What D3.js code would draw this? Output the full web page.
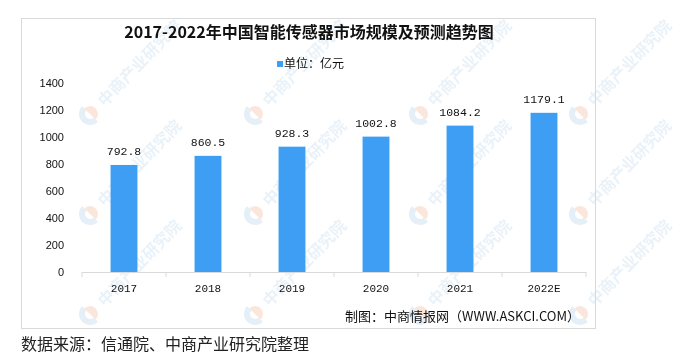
<!doctype html>
<html lang="zh">
<head>
  <meta charset="utf-8">
  <script src="https://cdn.jsdelivr.net/npm/d3@7"></script>
  <title>2017-2022年中国智能传感器市场规模及预测趋势图</title>
  <style>
    html, body { margin: 0; padding: 0; background: #fff; }
    svg { display: block; }
  </style>
</head>
<body>
  <svg id="chart" width="690" height="359"></svg>
  <script>
    // chart data
    var years = ["2017", "2018", "2019", "2020", "2021", "2022E"];
    var values = [792.8, 860.5, 928.3, 1002.8, 1084.2, 1179.1];
    var yTicks = [0, 200, 400, 600, 800, 1000, 1200, 1400];

    var cjk = '"Noto Sans CJK SC", "Noto Sans", sans-serif';
    var mono = '"Liberation Mono", "DejaVu Sans Mono", monospace';
    var blue = "#3d9ef3";

    var svg = d3.select("#chart");
    svg.append("rect").attr("width", 690).attr("height", 359).attr("fill", "#fff");

    // watermark "中商产业研究院" behind everything
    var wm = svg.append("g").attr("opacity", 0.5);
    [114, 214, 314].forEach(function(wy) {
      [90, 255, 420, 580].forEach(function(wx) {
        var g = wm.append("g").attr("transform", "translate(" + wx + "," + wy + ") rotate(-46)");
        g.append("path").attr("d", d3.arc()({innerRadius: 5, outerRadius: 11, startAngle: Math.PI, endAngle: 2 * Math.PI}))
          .attr("fill", "#c9def0");
        g.append("path").attr("d", d3.arc()({innerRadius: 0, outerRadius: 8, startAngle: 0, endAngle: Math.PI}))
          .attr("fill", "#f6cdb9");
        g.append("text").attr("x", 15).attr("y", 6)
          .attr("font-family", cjk).attr("font-size", 16).attr("font-weight", "bold")
          .attr("fill", "#d4e5f3").text("中商产业研究院");
      });
    });

    // frame
    svg.append("rect").attr("x", 21.5).attr("y", 18.5).attr("width", 574).attr("height", 310)
      .attr("fill", "none").attr("stroke", "#d9d9d9");

    svg.append("text").attr("x", 309).attr("y", 38).attr("text-anchor", "middle")
      .attr("font-family", cjk).attr("font-size", 16).attr("font-weight", "bold").attr("fill", "#111")
      .text("2017-2022年中国智能传感器市场规模及预测趋势图");

    // legend
    svg.append("rect").attr("x", 277).attr("y", 61).attr("width", 6).attr("height", 6).attr("fill", blue);
    svg.append("text").attr("x", 284).attr("y", 68)
      .attr("font-family", cjk).attr("font-size", 12).attr("fill", "#111").text("单位：亿元");

    var x = d3.scaleBand().domain(years).range([82, 586]).paddingInner(0.68).paddingOuter(0.34);
    var xb = d3.scaleBand().domain(years).range([82, 586]);
    var y = d3.scaleLinear().domain([0, 1400]).range([272, 83]);

    // y axis labels only
    var ya = svg.append("g").attr("transform", "translate(70,0)")
      .call(d3.axisLeft(y).tickValues(yTicks).tickFormat(d3.format("d")).tickSize(0).tickPadding(6));
    ya.select(".domain").remove();
    ya.selectAll("text").attr("font-family", '"Liberation Sans", Arial, sans-serif').attr("font-size", 11).attr("fill", "#111");

    // x axis
    var xa = svg.append("g").attr("transform", "translate(0,272)")
      .call(d3.axisBottom(xb).tickSize(0).tickPadding(12));
    xa.select(".domain").attr("stroke", "#d9d9d9");
    xa.selectAll("text").attr("font-family", mono).attr("font-size", 11).attr("fill", "#111");
    xa.selectAll(".sep").data(years.concat(["end"])).enter().append("line")
      .attr("x1", function(d, i) { return i < years.length ? xb(d) : xb.range()[1]; })
      .attr("x2", function(d, i) { return i < years.length ? xb(d) : xb.range()[1]; })
      .attr("y1", 0).attr("y2", 5).attr("stroke", "#d9d9d9");

    // bars
    svg.append("g").selectAll("rect").data(values).enter().append("rect")
      .attr("x", function(d, i) { return x(years[i]); })
      .attr("y", function(d) { return y(d); })
      .attr("width", x.bandwidth())
      .attr("height", function(d) { return y(0) - y(d); })
      .attr("fill", blue);

    svg.append("g").selectAll("text").data(values).enter().append("text")
      .attr("x", function(d, i) { return xb(years[i]) + xb.bandwidth() / 2; })
      .attr("y", function(d) { return y(d) - 10; })
      .attr("text-anchor", "middle")
      .attr("font-family", mono).attr("font-size", 11.5).attr("fill", "#111")
      .text(function(d) { return d.toFixed(1); });

    // credit and source
    svg.append("text").attr("x", 580).attr("y", 321).attr("text-anchor", "end")
      .attr("font-family", cjk).attr("font-size", 13).attr("fill", "#111")
      .text("制图：中商情报网（WWW.ASKCI.COM）");
    svg.append("text").attr("x", 21).attr("y", 350)
      .attr("font-family", cjk).attr("font-size", 16).attr("fill", "#222")
      .text("数据来源：信通院、中商产业研究院整理");
  </script>
</body>
</html>
